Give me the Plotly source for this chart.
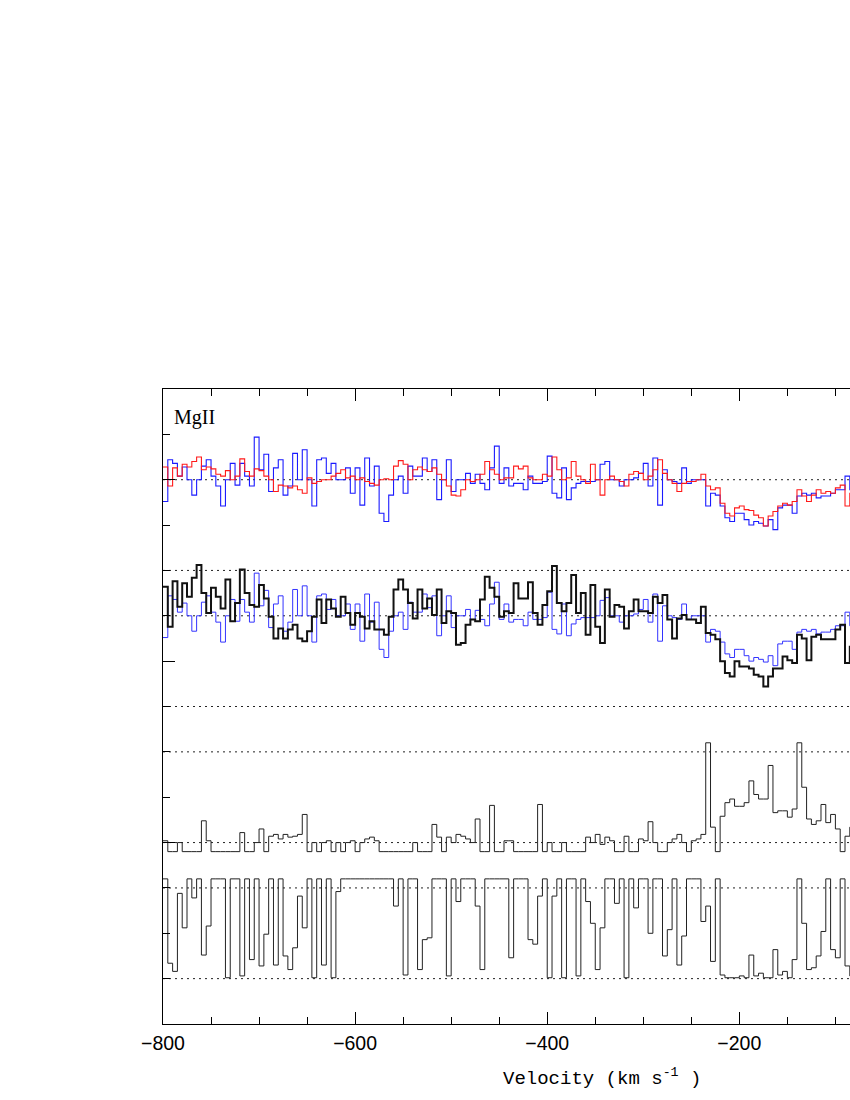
import numpy as np
import plotly.graph_objects as go

# Velocity bin left edges (km/s)
VEL = np.arange(-800, -80, 5)

# Panel 1: normalised flux, red spectrum
RED = [1.14, 0.93, 1.13, 1.04, 1.17, 1.14, 1.20, 1.25, 1.11, 1.14,
       1.12, 1.06, 1.04, 1.10, 1.00, 1.04, 1.23, 1.09, 1.04, 1.12,
       1.10, 1.04, 1.00, 0.87, 0.94, 0.93, 0.91, 0.93, 0.89, 0.85,
       1.02, 0.96, 0.98, 1.00, 1.00, 1.04, 1.07, 1.11, 1.02, 1.04,
       1.00, 1.02, 0.98, 0.96, 0.94, 1.00, 1.01, 1.00, 1.15, 1.21,
       1.17, 1.00, 1.11, 1.14, 1.11, 1.09, 1.13, 1.06, 1.00, 0.93,
       0.83, 0.82, 0.89, 1.00, 0.98, 1.00, 1.06, 1.20, 1.11, 1.06,
       1.00, 1.02, 1.02, 1.15, 1.12, 1.15, 1.02, 1.00, 1.00, 1.06,
       1.04, 1.25, 1.11, 1.00, 1.02, 1.20, 1.04, 1.00, 0.96, 1.17,
       1.00, 0.83, 1.00, 1.04, 1.00, 0.98, 0.93, 1.06, 1.09, 1.07,
       1.00, 1.04, 1.11, 1.22, 1.07, 1.00, 0.96, 0.87, 0.96, 0.98,
       0.98, 1.00, 1.06, 0.93, 0.89, 0.91, 0.74, 0.63, 0.60, 0.69,
       0.71, 0.67, 0.66, 0.61, 0.58, 0.49, 0.60, 0.65, 0.71, 0.74,
       0.72, 0.76, 0.89, 0.82, 0.76, 0.83, 0.89, 0.85, 0.87, 0.85,
       0.91, 0.94, 0.71, 0.85]

# Blue spectrum (shown in panels 1 and 2)
BLUE = [0.76, 1.22, 1.18, 1.04, 1.14, 1.00, 0.83, 1.00, 1.15, 1.22,
        1.04, 0.93, 0.71, 1.00, 1.18, 0.94, 1.18, 1.04, 0.93, 1.47,
        1.11, 1.28, 0.87, 1.13, 1.22, 0.83, 0.93, 1.29, 1.00, 1.33,
        1.00, 0.71, 1.22, 1.24, 1.07, 1.18, 1.00, 1.00, 1.13, 0.85,
        1.13, 0.72, 1.24, 0.93, 1.15, 0.63, 0.54, 0.83, 1.00, 1.04,
        0.85, 1.15, 1.04, 1.04, 1.24, 1.09, 1.22, 0.78, 1.00, 1.22,
        0.87, 1.00, 1.00, 1.07, 0.96, 1.06, 0.96, 0.89, 1.13, 1.37,
        0.96, 1.13, 0.93, 0.96, 0.96, 0.89, 1.04, 0.96, 0.96, 0.98,
        1.26, 0.85, 0.80, 1.13, 0.78, 0.91, 0.96, 0.98, 0.98, 0.98,
        1.00, 1.17, 1.20, 1.00, 1.00, 0.93, 1.00, 1.00, 1.02, 1.07,
        1.18, 0.93, 1.24, 0.72, 1.11, 1.00, 0.98, 0.96, 1.13, 0.96,
        1.00, 1.00, 1.00, 0.71, 0.85, 0.83, 0.71, 0.58, 0.54, 0.63,
        0.63, 0.56, 0.50, 0.54, 0.52, 0.49, 0.56, 0.45, 0.69, 0.72,
        0.72, 0.63, 0.82, 0.85, 0.83, 0.85, 0.80, 0.82, 0.82, 0.85,
        0.89, 0.89, 1.04, 0.89]

# Panel 2: black spectrum
BLACK = [1.32, 0.88, 1.38, 1.10, 1.36, 1.21, 1.42, 1.56, 1.25, 1.03,
         1.31, 1.21, 1.08, 1.40, 0.94, 1.14, 1.51, 1.25, 1.12, 1.10,
         1.34, 1.19, 0.99, 0.75, 0.86, 0.75, 0.85, 0.90, 0.75, 0.72,
         0.83, 0.99, 1.18, 0.92, 1.18, 1.08, 0.99, 1.21, 1.03, 0.90,
         1.03, 0.99, 0.86, 0.94, 0.85, 0.85, 0.79, 0.99, 1.29, 1.40,
         1.29, 1.14, 0.97, 1.29, 1.08, 1.19, 1.01, 1.29, 0.92, 1.05,
         1.03, 0.68, 0.70, 0.90, 0.96, 0.94, 1.18, 1.43, 1.31, 1.21,
         0.99, 1.05, 1.03, 1.36, 1.19, 1.19, 1.37, 1.03, 0.90, 1.12,
         1.27, 1.55, 1.14, 1.05, 1.14, 1.45, 1.03, 1.25, 0.79, 1.34,
         0.88, 0.70, 1.29, 0.99, 1.12, 1.10, 0.86, 1.05, 1.18, 1.05,
         1.05, 1.03, 1.21, 1.14, 1.23, 0.96, 0.75, 0.97, 1.01, 0.96,
         0.96, 0.92, 1.10, 0.81, 0.79, 0.74, 0.50, 0.37, 0.33, 0.50,
         0.44, 0.44, 0.42, 0.35, 0.33, 0.22, 0.33, 0.42, 0.42, 0.55,
         0.51, 0.48, 0.79, 0.75, 0.51, 0.77, 0.79, 0.74, 0.74, 0.74,
         0.85, 0.90, 0.48, 0.66]

# Panel 3
PANEL3 = [0.02, -0.10, -0.10, 0.00, -0.10, -0.10, -0.10, -0.10, 0.24, 0.02,
          -0.10, -0.10, -0.10, -0.10, -0.10, -0.10, 0.11, -0.10, -0.10, 0.00,
          0.15, -0.10, 0.07, 0.09, 0.04, 0.09, 0.06, 0.07, 0.09, 0.31,
          -0.10, 0.00, -0.10, 0.00, 0.02, -0.10, 0.00, -0.10, 0.00, 0.02,
          -0.10, 0.00, 0.04, 0.06, 0.02, -0.10, -0.10, -0.10, -0.10, -0.10,
          -0.10, -0.10, 0.00, -0.10, -0.10, -0.10, 0.20, 0.06, -0.10, 0.06,
          0.00, 0.09, 0.07, 0.04, 0.00, 0.26, -0.10, -0.10, 0.41, -0.10,
          -0.10, 0.02, 0.02, -0.10, -0.10, -0.10, -0.10, -0.10, 0.42, -0.10,
          0.00, -0.10, -0.10, 0.00, -0.10, -0.10, -0.10, -0.10, 0.06, 0.00,
          0.09, -0.02, 0.06, 0.02, -0.10, -0.10, 0.07, -0.10, -0.10, 0.04,
          0.02, 0.23, 0.00, -0.10, -0.10, 0.00, 0.04, 0.09, 0.00, -0.10,
          0.02, 0.04, 0.09, 1.10, 0.17, -0.10, 0.29, 0.44, 0.48, 0.40,
          0.40, 0.44, 0.68, 0.53, 0.48, 0.48, 0.85, 0.33, 0.35, 0.35,
          0.28, 0.37, 1.10, 0.61, 0.26, 0.20, 0.24, 0.42, 0.22, 0.31,
          0.15, -0.10, 0.07, 0.17]

# Panel 4
PANEL4 = [1.10, 0.17, 0.08, 0.94, 0.56, 1.10, 0.89, 1.10, 0.26, 0.58,
          1.10, 1.10, 1.10, 0.01, 1.10, 1.10, 0.03, 1.10, 0.21, 1.10,
          0.14, 0.49, 1.10, 0.15, 1.10, 0.25, 0.10, 0.34, 0.91, 0.56,
          1.10, 0.01, 1.10, 0.15, 1.10, 0.01, 0.96, 1.10, 1.10, 1.10,
          1.10, 1.10, 1.10, 1.10, 1.10, 1.10, 1.10, 1.10, 0.80, 1.10,
          0.04, 1.10, 1.10, 0.10, 0.43, 0.45, 1.10, 1.10, 1.10, 0.03,
          1.10, 0.85, 1.10, 1.10, 1.10, 0.80, 0.10, 1.10, 1.10, 1.10,
          1.10, 1.10, 0.23, 1.10, 1.10, 1.10, 0.43, 0.38, 0.91, 1.10,
          0.01, 0.91, 1.10, 0.01, 1.10, 1.10, 0.03, 1.10, 0.85, 0.61,
          0.10, 0.56, 1.10, 1.10, 0.83, 1.10, 0.01, 1.10, 0.78, 1.10,
          1.10, 0.50, 1.10, 1.10, 0.25, 0.54, 1.10, 0.15, 0.47, 1.10,
          1.10, 1.10, 0.63, 0.80, 0.19, 1.10, 0.04, 0.01, 0.01, 0.01,
          0.03, 0.01, 0.26, 0.03, 0.06, 0.01, 0.01, 0.32, 0.04, 0.08,
          0.01, 0.21, 1.10, 0.61, 0.10, 0.12, 0.25, 0.52, 1.10, 0.32,
          0.23, 1.10, 0.14, 0.03]

BIN = 5
X_RANGE = [-800, -84.8]


def step(vals):
    x = list(VEL) + [VEL[-1] + BIN]
    y = list(vals) + [vals[-1]]
    return x, y


fig = go.Figure()


def add(vals, axis, color, width):
    x, y = step(vals)
    fig.add_trace(go.Scatter(x=x, y=y, mode="lines", yaxis=axis,
                             line=dict(color=color, width=width, shape="hv"),
                             showlegend=False, hoverinfo="skip"))


# panel 1
add(BLUE, "y2", "#1a1aff", 1.1)
add(RED, "y2", "#ff1a1a", 1.1)
# panel 2
add(BLUE, "y3", "#3333ff", 1.0)
add(BLACK, "y3", "#111111", 2.0)
# panel 3 and 4
add(PANEL3, "y4", "#222222", 1.0)
add(PANEL4, "y5", "#222222", 1.0)

# dotted reference levels: (axis, value)
REF_LEVELS = [("y2", 1.0), ("y3", 1.5), ("y3", 1.0), ("y3", 0.0),
              ("y4", 1.0), ("y4", 0.0), ("y5", 1.0), ("y5", 0.0)]
for ax, val in REF_LEVELS:
    fig.add_shape(type="line", xref="paper", x0=0, x1=1, yref=ax, y0=val, y1=val,
                  line=dict(color="#222222", width=1, dash="2px,4px"), layer="below")

axis_common = dict(showgrid=False, zeroline=False)
fig.update_layout(
    width=850, height=1100,
    paper_bgcolor="white", plot_bgcolor="white",
    margin=dict(l=162.7, r=0, t=389.3, b=76, autoexpand=False),
    xaxis=dict(range=X_RANGE, showline=True, linecolor="black", linewidth=1.3,
               mirror="ticks", ticks="inside", ticklen=12, tickwidth=1.3,
               tickcolor="black", tick0=0, dtick=200,
               minor=dict(dtick=50, ticklen=7, ticks="inside", tickwidth=1.3,
                          tickcolor="black", showgrid=False),
               tickfont=dict(family="Liberation Sans", size=19.5, color="black"),
               ticklabelstandoff=1, **axis_common),
    yaxis=dict(range=[0, 14], showline=True, linecolor="black", linewidth=1.3,
               ticks="inside", ticklen=12, tickwidth=1.3, tickcolor="black",
               tick0=0, dtick=4, showticklabels=False,
               minor=dict(dtick=1, ticklen=7, ticks="inside", tickwidth=1.3,
                          tickcolor="black", showgrid=False),
               **axis_common),
    yaxis2=dict(overlaying="y", range=[-5, 2], visible=False, **axis_common),
    yaxis3=dict(overlaying="y", range=[-3.5, 3.5], visible=False, **axis_common),
    yaxis4=dict(overlaying="y", range=[-2, 5], visible=False, **axis_common),
    yaxis5=dict(overlaying="y", range=[-0.5, 6.5], visible=False, **axis_common),
)

fig.add_annotation(text="MgII", xref="x", yref="y", x=-790.3, y=13.38,
                   xanchor="left", yanchor="middle", showarrow=False,
                   font=dict(family="Liberation Serif", size=20, color="black"))
fig.add_annotation(text="Velocity (km s<sup>-1</sup> )", xref="paper", yref="paper",
                   x=0.639, y=-0.085, xanchor="center", yanchor="middle",
                   showarrow=False,
                   font=dict(family="Liberation Mono", size=19, color="black"))

fig.write_html("out.html",
               config={"displayModeBar": False},
               post_script="document.body.style.margin='0';"
                           "document.body.style.overflow='hidden';")
